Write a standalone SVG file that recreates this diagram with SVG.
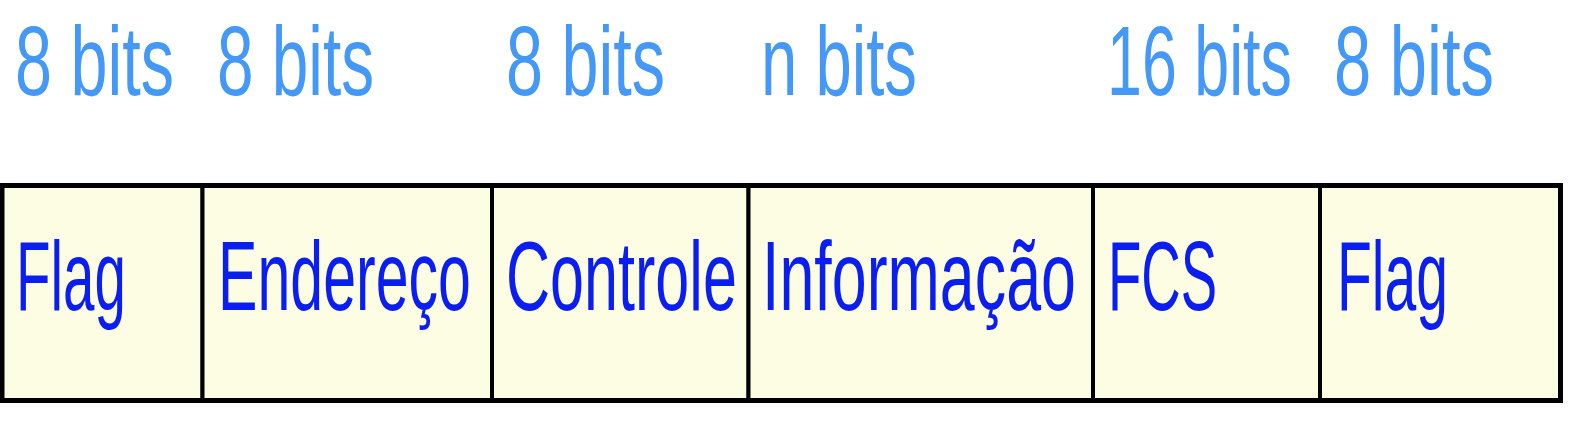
<svg xmlns="http://www.w3.org/2000/svg" width="1570" height="430" viewBox="0 0 1570 430">
<style>
.cell{fill:#FDFDE3;stroke:#000;stroke-width:4}
.bits{font-family:"Liberation Sans",Arial,sans-serif;font-size:99px;fill:#4499F8}
.name{font-family:"Liberation Sans",Arial,sans-serif;font-size:99px;fill:#0A1EF2}
</style>
<rect width="1570" height="430" fill="#fff"/>
<g id="labels-bits">
<text class="bits" transform="translate(15,95) scale(0.672,1)">8 bits</text>
<text class="bits" transform="translate(217,95) scale(0.664,1)">8 bits</text>
<text class="bits" transform="translate(506,95) scale(0.672,1)">8 bits</text>
<text class="bits" transform="translate(761,95) scale(0.659,1)">n bits</text>
<text class="bits" transform="translate(1107,95) scale(0.634,1)">16 bits</text>
<text class="bits" transform="translate(1334,95) scale(0.676,1)">8 bits</text>
</g>
<g id="cell-flag1">
<rect class="cell" x="2" y="185.5" width="200.5" height="215"/>
<text class="name" transform="translate(16,310) scale(0.571,1)">Flag</text>
</g>
<g id="cell-endereco">
<rect class="cell" x="202.5" y="185.5" width="289.5" height="215"/>
<text class="name" transform="translate(218,310) scale(0.597,1)">Endereço</text>
</g>
<g id="cell-controle">
<rect class="cell" x="492" y="185.5" width="256.5" height="215"/>
<text class="name" transform="translate(506,310) scale(0.617,1)">Controle</text>
</g>
<g id="cell-informacao">
<rect class="cell" x="748.5" y="185.5" width="344.5" height="215"/>
<text class="name" transform="translate(762,310) scale(0.634,1)">Informação</text>
</g>
<g id="cell-fcs">
<rect class="cell" x="1093" y="185.5" width="227" height="215"/>
<text class="name" transform="translate(1108,310) scale(0.551,1)">FCS</text>
</g>
<g id="cell-flag2">
<rect class="cell" x="1320" y="185.5" width="240.5" height="215"/>
<text class="name" transform="translate(1337,310) scale(0.576,1)">Flag</text>
</g>
<g id="connectors"></g>
<rect x="2" y="185.5" width="1558.5" height="215" fill="none" stroke="#000" stroke-width="5"/>
</svg>
